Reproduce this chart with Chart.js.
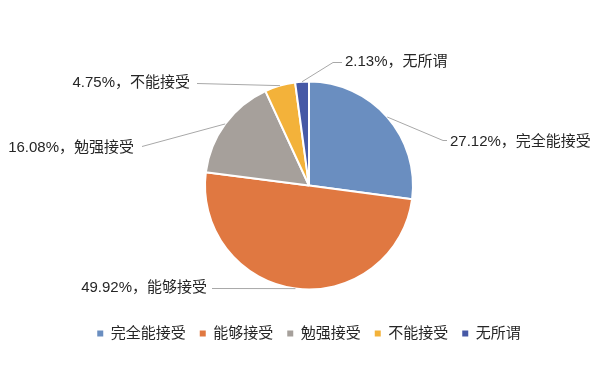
<!DOCTYPE html>
<html>
<head>
<meta charset="utf-8">
<script src="https://cdn.jsdelivr.net/npm/chart.js@4"></script>
<style>
  html, body { margin: 0; padding: 0; background: #fff; }
  #wrap { width: 600px; height: 380px; }
</style>
</head>
<body>
<div id="wrap"><canvas id="pieChart" width="600" height="380"></canvas></div>
<script>
const categories = ['完全能接受', '能够接受', '勉强接受', '不能接受', '无所谓'];
const shares = [27.12, 49.92, 16.08, 4.75, 2.13];
const sliceColors = ['#6A8EC0', '#E07841', '#A6A09B', '#F3B23A', '#4659A6'];

const fontFamily = '"Liberation Sans", "Noto Sans CJK SC", sans-serif';

// leader line bends and label anchors, offsets from pie centre
const labelLayout = [
  { path: [[134, -45], [138, -45]], text: [141, -44], align: 'left' },
  { path: [[-97, 103]], text: [-102, 102], align: 'right' },
  { path: [[-167, -39]], text: [-175, -38], align: 'right' },
  { path: [[-112, -102]], text: [-119, -103], align: 'right' },
  { path: [[24, -123], [33, -123]], text: [36, -124], align: 'left' }
];

const sliceLabels = {
  id: 'sliceLabels',
  afterDatasetsDraw(chart) {
    const ctx = chart.ctx;
    const meta = chart.getDatasetMeta(0);
    ctx.save();
    meta.data.forEach((arc, i) => {
      const p = arc.getProps(['x', 'y', 'startAngle', 'endAngle', 'outerRadius']);
      const mid = (p.startAngle + p.endAngle) / 2;
      const lay = labelLayout[i];
      ctx.strokeStyle = '#A8A8A8';
      ctx.lineWidth = 1;
      ctx.beginPath();
      ctx.moveTo(p.x + Math.cos(mid) * p.outerRadius, p.y + Math.sin(mid) * p.outerRadius);
      lay.path.forEach(pt => ctx.lineTo(p.x + pt[0], p.y + pt[1]));
      ctx.stroke();
      ctx.fillStyle = '#262626';
      ctx.font = '15px ' + fontFamily;
      ctx.textAlign = lay.align;
      ctx.textBaseline = 'middle';
      ctx.fillText(shares[i].toFixed(2) + '%，' + categories[i], p.x + lay.text[0], p.y + lay.text[1]);
    });
    ctx.restore();
  }
};

new Chart(document.getElementById('pieChart'), {
  type: 'pie',
  data: {
    labels: categories,
    datasets: [{
      data: shares,
      backgroundColor: sliceColors,
      borderColor: '#ffffff',
      borderWidth: 2,
      radius: 104
    }]
  },
  options: {
    responsive: false,
    animation: false,
    layout: { padding: { top: 59, bottom: 29, left: 18, right: 0 } },
    plugins: {
      tooltip: { enabled: false },
      legend: {
        position: 'bottom',
        labels: {
          font: { size: 15, family: fontFamily },
          color: '#262626',
          boxWidth: 6,
          boxHeight: 6,
          padding: 14,
          generateLabels(chart) {
            const items = Chart.overrides.pie.plugins.legend.labels.generateLabels(chart);
            return items.map(it => Object.assign(it, { lineWidth: 0, strokeStyle: it.fillStyle }));
          }
        }
      }
    }
  },
  plugins: [sliceLabels]
});
</script>
</body>
</html>
